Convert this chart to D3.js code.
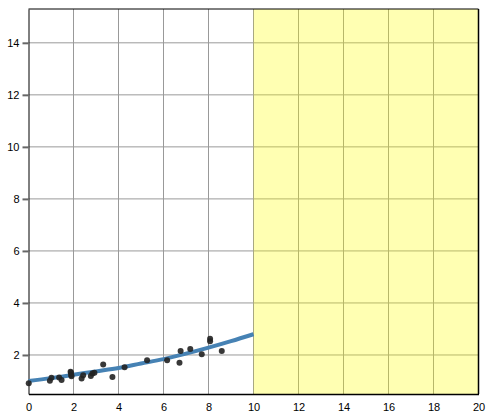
<!DOCTYPE html>
<html>
<head>
<meta charset="utf-8">
<script src="https://cdn.jsdelivr.net/npm/d3@7"></script>
<style>
  body { margin: 0; background: #fff; }
  svg { display: block; font-family: "Liberation Sans", Arial, sans-serif; }
</style>
</head>
<body>
<svg id="chart" width="492" height="419"></svg>
<script>
// ---- data ----
const pointX = [0.01, 0.95, 1.02, 1.36, 1.47, 1.87, 1.89, 1.90, 1.91, 2.36, 2.43, 2.77, 2.84, 2.93, 3.32, 3.73, 4.27, 5.27, 6.16, 6.71, 6.76, 7.19, 7.70, 8.07, 8.07, 8.59];
const pointY = [0.91, 1.01, 1.12, 1.13, 1.04, 1.36, 1.32, 1.23, 1.18, 1.10, 1.22, 1.19, 1.29, 1.32, 1.63, 1.15, 1.53, 1.80, 1.80, 1.70, 2.15, 2.23, 2.03, 2.62, 2.53, 2.15];
const curveX = [0, 1, 2, 3, 4, 5, 6, 7, 8, 9, 10];
const curveY = [1.00, 1.11, 1.24, 1.37, 1.50, 1.67, 1.84, 2.05, 2.28, 2.53, 2.80];
const xTicks = [0, 2, 4, 6, 8, 10, 12, 14, 16, 18, 20];
const yTicks = [2, 4, 6, 8, 10, 12, 14];
const xDomain = [0, 20];
const yDomain = [0.5, 15.3];
const highlightRange = [10, 20];

// ---- layout ----
const margin = { left: 28.5, top: 9, right: 14, bottom: 25 };
const W = 492, H = 419;
const width = 450, height = 385;

const svg = d3.select("#chart");
const g = svg.append("g").attr("transform", `translate(${margin.left},${margin.top})`);

const x = d3.scaleLinear().domain(xDomain).range([0, width]);
const y = d3.scaleLinear().domain(yDomain).range([height, 0]);

// grid
g.append("g").selectAll("line.v").data(xTicks.filter(t => t > 0 && t < 20)).join("line")
  .attr("x1", d => x(d)).attr("x2", d => x(d))
  .attr("y1", 0).attr("y2", height)
  .attr("stroke", "#999").attr("stroke-width", 1);
g.append("g").selectAll("line.h").data(yTicks).join("line")
  .attr("x1", 0).attr("x2", width)
  .attr("y1", d => y(d)).attr("y2", d => y(d))
  .attr("stroke", "#999").attr("stroke-width", 1);

// highlighted region
g.append("rect")
  .attr("x", x(highlightRange[0])).attr("y", 0)
  .attr("width", x(highlightRange[1]) - x(highlightRange[0]))
  .attr("height", height)
  .attr("fill", "yellow").attr("fill-opacity", 0.3);

// axes
const yAxis = g.append("g").call(d3.axisLeft(y).tickValues(yTicks).tickSize(6).tickSizeOuter(0).tickFormat(d3.format("d")));
yAxis.select(".domain").attr("stroke", "#000");
yAxis.selectAll(".tick line").attr("stroke", "#666").attr("stroke-width", 2);
yAxis.selectAll(".tick text").attr("font-size", 11).attr("fill", "#000").attr("font-family", "Liberation Sans, Arial, sans-serif");

const xAxis = g.append("g").attr("transform", `translate(0,${height})`)
  .call(d3.axisBottom(x).tickValues(xTicks).tickSize(0).tickPadding(9).tickSizeOuter(0).tickFormat(d3.format("d")));
xAxis.select(".domain").attr("stroke", "#000").attr("stroke-width", 1.5);
xAxis.selectAll(".tick text").attr("font-size", 11).attr("fill", "#000").attr("font-family", "Liberation Sans, Arial, sans-serif");

// top & right border
g.append("line").attr("x1", 0).attr("x2", width).attr("y1", 0).attr("y2", 0).attr("stroke", "#000");
g.append("line").attr("x1", width).attr("x2", width).attr("y1", 0).attr("y2", height).attr("stroke", "#000").attr("stroke-width", 1.5);

// fitted curve
const line = d3.line().x(d => x(d[0])).y(d => y(d[1])).curve(d3.curveMonotoneX);
g.append("path")
  .datum(d3.zip(curveX, curveY))
  .attr("d", line)
  .attr("fill", "none")
  .attr("stroke", "steelblue")
  .attr("stroke-width", 4);

// points
g.append("g").selectAll("circle").data(d3.zip(pointX, pointY)).join("circle")
  .attr("cx", d => x(d[0])).attr("cy", d => y(d[1]))
  .attr("r", 3)
  .attr("fill", "#222").attr("fill-opacity", 0.9);
</script>
</body>
</html>
